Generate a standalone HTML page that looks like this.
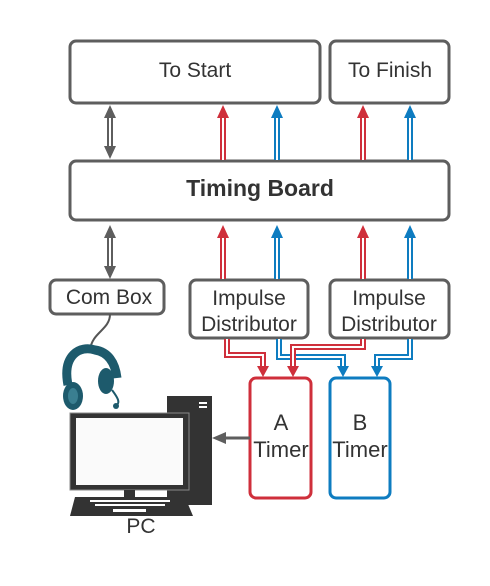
<!DOCTYPE html>
<html><head><style>
html,body{margin:0;padding:0;background:#fff;}
svg{display:block;}
text{font-family:"Liberation Sans",sans-serif;fill:#333;}
</style></head><body>
<svg width="490" height="586" viewBox="0 0 490 586" xmlns="http://www.w3.org/2000/svg">
<g fill="#fff" stroke="#5e5e5e" stroke-width="3">
<rect x="70" y="41" width="250" height="62" rx="6"/>
<rect x="330" y="41" width="119" height="62" rx="6"/>
<rect x="70" y="161" width="379" height="59" rx="6"/>
<rect x="50" y="280" width="114" height="34" rx="6"/>
<rect x="190" y="280" width="118" height="58" rx="6"/>
<rect x="330" y="280" width="119" height="58" rx="6"/>
</g>
<rect x="250" y="378" width="61" height="120" rx="6" fill="#fff" stroke="#cf2f3b" stroke-width="3"/>
<rect x="330" y="378" width="60" height="120" rx="6" fill="#fff" stroke="#0e7cc0" stroke-width="3"/>
<text x="195" y="77" font-size="21" text-anchor="middle">To Start</text>
<text x="390" y="77" font-size="21" text-anchor="middle">To Finish</text>
<text x="260" y="196" font-size="23" font-weight="bold" text-anchor="middle">Timing Board</text>
<text x="109" y="304" font-size="21" text-anchor="middle">Com Box</text>
<text x="249" y="305" font-size="21" text-anchor="middle">Impulse</text>
<text x="249" y="331" font-size="21" text-anchor="middle">Distributor</text>
<text x="389" y="305" font-size="21" text-anchor="middle">Impulse</text>
<text x="389" y="331" font-size="21" text-anchor="middle">Distributor</text>
<text x="281" y="430" font-size="22" text-anchor="middle">A</text>
<text x="281" y="457" font-size="22" text-anchor="middle">Timer</text>
<text x="360" y="430" font-size="22" text-anchor="middle">B</text>
<text x="360" y="457" font-size="22" text-anchor="middle">Timer</text>
<text x="141" y="533" font-size="21" text-anchor="middle">PC</text>

<g fill="none" stroke-linejoin="miter">
<g stroke="#5e5e5e" stroke-width="6"><path d="M110 116V148M110 236V266"/></g>
<g stroke="#cf2f3b" stroke-width="6"><path d="M223 116V160M363 116V160M223 236V279M363 236V279"/></g>
<g stroke="#0e7cc0" stroke-width="6"><path d="M277 116V160M410 116V160M277 236V279M410 236V279"/></g>
<path d="M227 339V355H263V368" stroke="#cf2f3b" stroke-width="6"/>
<path d="M227 339V355H263V368" stroke="#fff" stroke-width="2"/>
<path d="M279 339V357H343V368" stroke="#0e7cc0" stroke-width="6"/>
<path d="M279 339V357H343V368" stroke="#fff" stroke-width="2"/>
<path d="M410 339V357H377V368" stroke="#0e7cc0" stroke-width="6"/>
<path d="M410 339V357H377V368" stroke="#fff" stroke-width="2"/>
<path d="M363 339V347H293V368" stroke="#cf2f3b" stroke-width="6"/>
<path d="M363 339V347H293V368" stroke="#fff" stroke-width="2"/>
<g stroke="#fff" stroke-width="2"><path d="M110 116V148M110 236V266M223 116V160M363 116V160M223 236V279M363 236V279M277 116V160M410 116V160M277 236V279M410 236V279"/></g>
</g>
<g fill="#5e5e5e"><path d="M104 118L110 105L116 118zM104 146L110 159L116 146zM104 238L110 225L116 238zM104 266L110 279L116 266z"/></g>
<g fill="#cf2f3b"><path d="M217 118L223 105L229 118zM357 118L363 105L369 118zM217 238L223 225L229 238zM357 238L363 225L369 238zM257 366L263 377L269 366zM287 366L293 377L299 366z"/></g>
<g fill="#0e7cc0"><path d="M271 118L277 105L283 118zM404 118L410 105L416 118zM271 238L277 225L283 238zM404 238L410 225L416 238zM337 366L343 377L349 366zM371 366L377 377L383 366z"/></g>
<path d="M250 438H224" stroke="#5e5e5e" stroke-width="3"/>
<path d="M226 432L212 438L226 444z" fill="#5e5e5e"/>
<rect x="167" y="396" width="45" height="109" fill="#333"/>
<rect x="199" y="402" width="8" height="2" fill="#fff"/><rect x="199" y="406" width="8" height="2" fill="#fff"/>
<rect x="70" y="413" width="119" height="77" fill="#333" stroke="#888" stroke-width="1"/>
<rect x="76" y="418" width="107" height="67" fill="#fafafa"/>
<rect x="124" y="490" width="11" height="7" fill="#333"/>
<path d="M75 497H185L193 516H70z" fill="#333"/>
<g fill="#fff"><rect x="90" y="500" width="80" height="2"/><rect x="95" y="504" width="70" height="2"/><rect x="113" y="509" width="33" height="3"/></g>
<path d="M110 314C110 330 92 332 90 350" stroke="#555" stroke-width="2" fill="none"/>
<path d="M68 385C62 355 80 345 95 350C108 352 115 362 117 378" stroke="#1d5a6c" stroke-width="9" fill="none"/>
<ellipse cx="73" cy="396" rx="10" ry="14" fill="#1d5a6c"/>
<ellipse cx="73" cy="396" rx="5" ry="8" fill="#3a7f91"/>
<ellipse cx="106" cy="381" rx="8" ry="13" fill="#1d5a6c"/>
<path d="M112 390C118 398 120 402 117 405" stroke="#1d5a6c" stroke-width="2" fill="none"/>
<circle cx="116" cy="406" r="3" fill="#1d5a6c"/>
</svg>
</body></html>
